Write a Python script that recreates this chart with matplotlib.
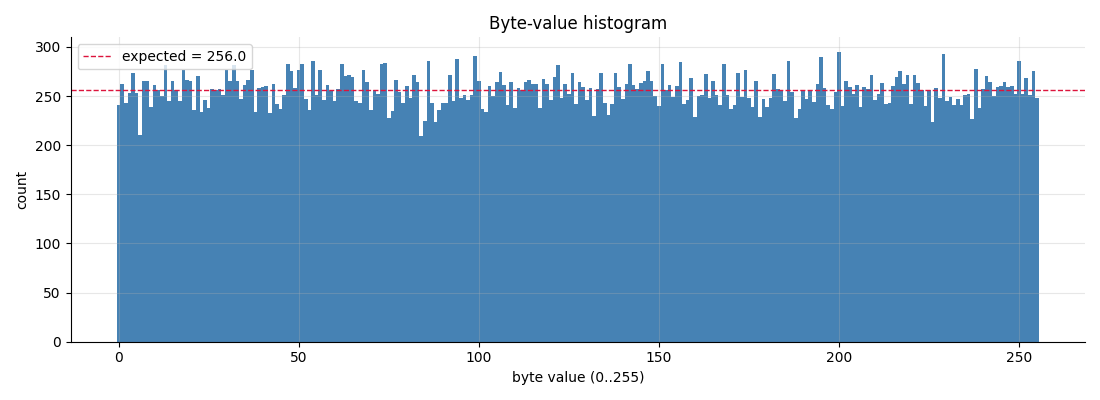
import numpy as np
import matplotlib
matplotlib.use("Agg")
import matplotlib.pyplot as plt

byte_values = np.arange(256)
counts = [
    241, 262, 243, 253, 273, 253, 210, 265, 265, 239, 261, 256, 250, 282, 245, 265,
    256, 245, 276, 266, 265, 236, 270, 234, 246, 238, 257, 256, 257, 251, 277, 265,
    282, 265, 247, 261, 266, 276, 234, 258, 259, 260, 233, 262, 242, 237, 251, 283,
    275, 258, 277, 283, 247, 236, 286, 251, 277, 246, 261, 255, 245, 257, 283, 270,
    271, 269, 245, 243, 276, 264, 236, 256, 252, 283, 284, 228, 235, 266, 254, 243,
    260, 248, 271, 264, 209, 225, 286, 243, 224, 236, 243, 243, 271, 245, 288, 248,
    251, 246, 251, 291, 265, 237, 234, 260, 250, 264, 274, 261, 241, 264, 238, 258,
    256, 264, 266, 262, 262, 238, 267, 262, 246, 269, 282, 248, 262, 252, 273, 242,
    264, 259, 246, 258, 230, 257, 273, 243, 231, 242, 273, 259, 247, 262, 283, 261,
    257, 263, 265, 275, 265, 250, 240, 283, 256, 261, 249, 260, 285, 242, 246, 268,
    229, 250, 251, 272, 248, 265, 251, 241, 283, 251, 237, 241, 273, 249, 277, 248,
    239, 265, 229, 247, 239, 248, 272, 257, 256, 245, 286, 254, 228, 237, 256, 247,
    256, 244, 262, 290, 258, 241, 237, 254, 295, 240, 265, 259, 252, 261, 239, 259,
    257, 271, 246, 252, 263, 242, 243, 260, 269, 275, 262, 271, 242, 271, 263, 256,
    240, 256, 224, 258, 248, 293, 245, 249, 241, 247, 241, 251, 252, 227, 278, 238,
    257, 270, 264, 250, 259, 260, 264, 259, 260, 252, 286, 252, 268, 251, 275, 248,
]
expected = 256.0
bin_edges = np.arange(257) - 0.5

fig, ax = plt.subplots(figsize=(11, 4), dpi=100)
ax.hist(byte_values, bins=bin_edges, weights=counts, color="steelblue")
ax.axhline(expected, color="crimson", linestyle="--", linewidth=1,
           label=f"expected = {expected}")
ax.set_title("Byte-value histogram")
ax.set_xlabel("byte value (0..255)")
ax.set_ylabel("count")
ax.grid(True, alpha=0.3)
ax.spines["top"].set_visible(False)
ax.spines["right"].set_visible(False)
ax.legend(loc="upper left")
fig.tight_layout()
fig.savefig("out.png")
